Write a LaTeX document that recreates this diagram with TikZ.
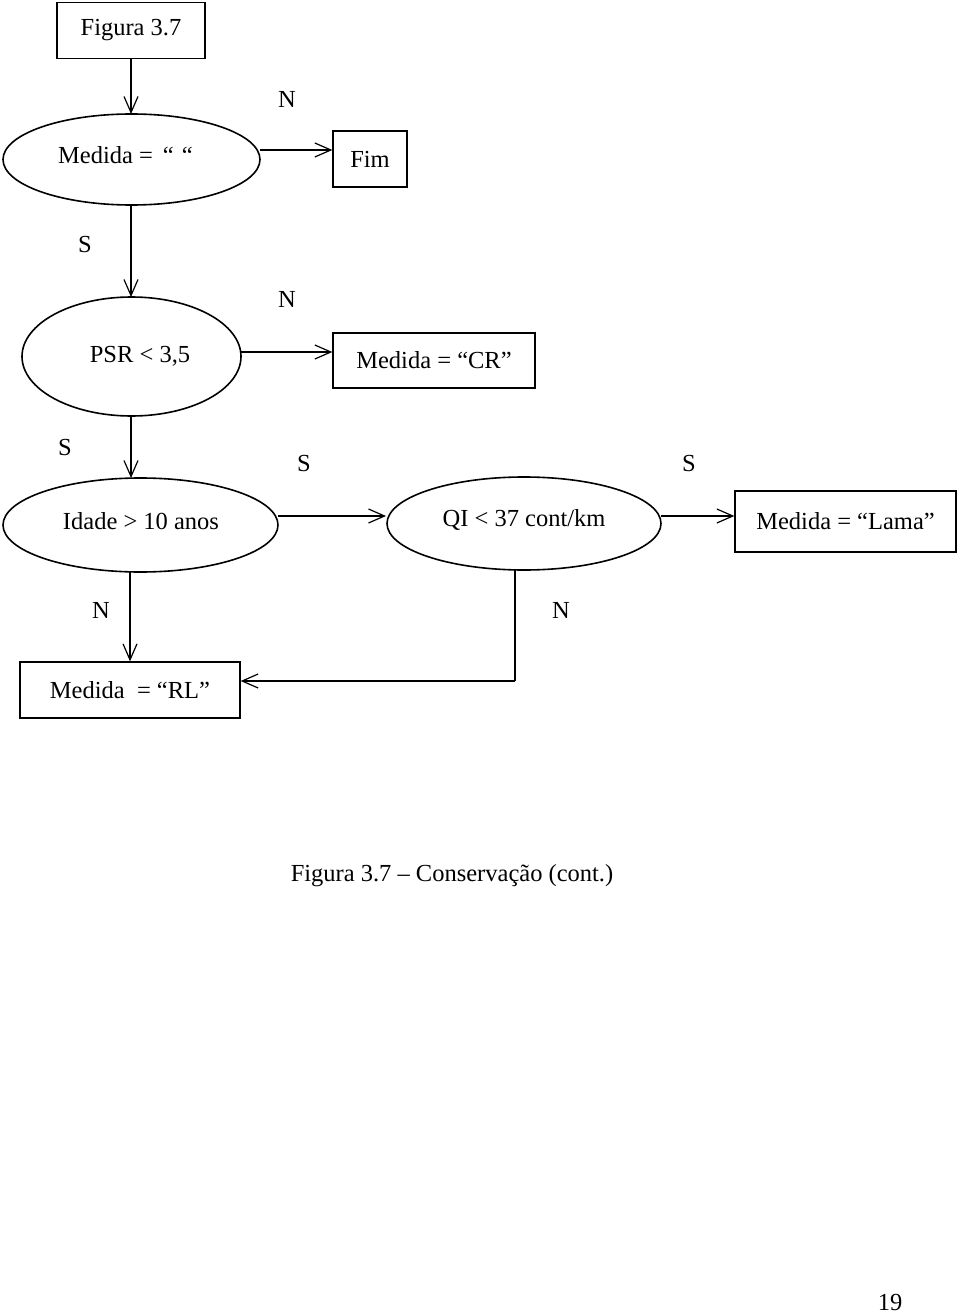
\documentclass[tikz,border=0pt]{standalone}
\usepackage{fontspec}
\setmainfont{Liberation Serif}
\usetikzlibrary{arrows.meta,shapes.geometric}
\begin{document}
\begin{tikzpicture}[x=1pt,y=-1pt,
  every node/.style={font=\fontsize{24.5}{28}\selectfont, inner sep=0pt},
  boxnode/.style={draw, line width=1.3pt, minimum width=#1, minimum height=56pt},
  ellnode/.style={draw, line width=1.6pt},
  arr/.style={line width=1.2pt, -{Straight Barb[length=16pt,width=14pt,line width=1.2pt]}},
  ln/.style={line width=1.2pt}]
\useasboundingbox (0,0) rectangle (960,1313);
% nodes
\node[boxnode=148pt] (fig) at (131,30.5) {Figura 3.7};
\draw[ellnode] (131.5,159.5) ellipse [x radius=128.5, y radius=45.5];
\coordinate (e1n) at (131,114);
\coordinate (e1s) at (131,205);
\coordinate (e1e) at (260,150);
\node[anchor=west] (t1) at (58,155) {Medida =\hspace{10pt}“\hspace{8pt}“};
\node[boxnode=74pt] (fim) at (370,159) {Fim};

\draw[ellnode] (131.5,356.5) ellipse [x radius=109.5, y radius=59.5];
\coordinate (e2n) at (131,297);
\coordinate (e2s) at (131,416);
\coordinate (e2e) at (241,352);
\node (t2) at (140,356) {PSR < 3,5};
\node[boxnode=202pt, minimum height=55pt] (cr) at (434,360.5) {Medida = “CR”};

\draw[ellnode] (140.5,525) ellipse [x radius=137.5, y radius=47];
\coordinate (e3n) at (131,478);
\coordinate (e3s) at (130,572);
\coordinate (e3e) at (278,516);
\node (t3) at (141,521) {Idade > 10 anos};

\draw[ellnode] (524,523.5) ellipse [x radius=137, y radius=46.5];
\coordinate (e4w) at (386,516);
\coordinate (e4s) at (515,570);
\coordinate (e4e) at (661,516);
\node (t4) at (524,520) {QI < 37 cont/km};
\node[boxnode=221pt, minimum height=61pt] (lama) at (845.5,521.5) {Medida = “Lama”};

\node[boxnode=220pt] (rl) at (130,690) {Medida\ \ = “RL”};
\coordinate (bend) at (515,681);

% connectors
\draw[arr] (fig.south) -- (e1n);
\draw[arr] (e1e) -- (fim.west |- e1e);
\draw[arr] (e1s) -- (e2n);
\draw[arr] (e2e) -- (cr.west |- e2e);
\draw[arr] (e2s) -- (e3n);
\draw[arr] (e3e) -- (e4w);
\draw[arr] (e4e) -- (lama.west |- e4e);
\draw[arr] (e3s) -- (rl.north);
\draw[ln] (e4s) -- (bend);
\draw[arr] (bend) -- (rl.east |- bend);

% labels
\node (n1) at (287,99) {N};
\node (s1) at (85,245) {S};
\node (n2) at (287,299) {N};
\node (s2) at (65,448) {S};
\node (s3) at (304,464) {S};
\node (s4) at (689,464) {S};
\node (n3) at (101,610) {N};
\node (n4) at (561,610) {N};

\node[font=\fontsize{24.5}{28}\selectfont] (cap) at (452,876) {Figura 3.7 – Conservação (cont.)};
\node (pg) at (890,1302) {19};
\end{tikzpicture}
\end{document}
